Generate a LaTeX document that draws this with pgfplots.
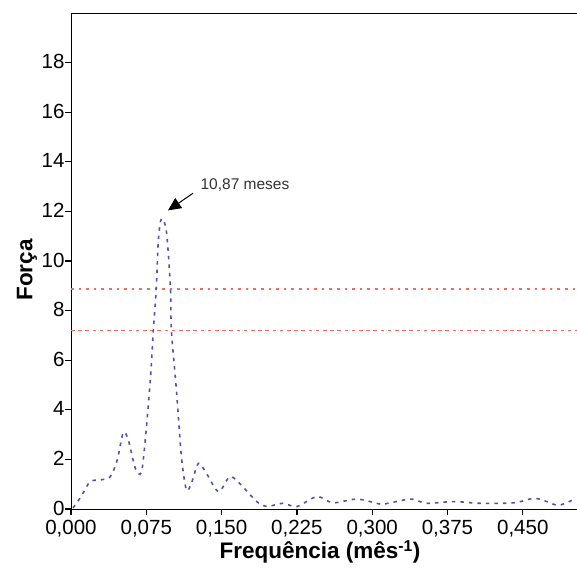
\documentclass[border=0pt]{standalone}
\usepackage{fontspec}
\setmainfont{Liberation Sans}
\usepackage{pgfplots}
\pgfplotsset{compat=1.18}
\usetikzlibrary{arrows.meta}
\definecolor{curve}{RGB}{85,80,170}
\definecolor{redl}{RGB}{228,112,102}
\definecolor{redd}{RGB}{238,105,90}
\begin{document}
\begin{tikzpicture}
\begin{axis}[
  scale only axis, width=506pt, height=496pt,
  xmin=0, xmax=0.504, ymin=0, ymax=20,
  axis x line*=bottom, axis y line*=left,
  axis line style={line width=0.9pt, black},
  xtick={0,0.075,...,0.46}, ytick={0,2,...,18},
  tick align=outside, major tick length=6pt,
  tick style={line width=1.3pt, black},
  /pgf/number format/assume math mode=true,
  xticklabel style={font=\fontsize{20.5}{20.5}\selectfont, yshift=-2pt, /pgf/number format/.cd, fixed, fixed zerofill, precision=3, use comma},
  yticklabel style={font=\fontsize{20.5}{20.5}\selectfont, xshift=3pt, yshift=1pt},
  xlabel={\textbf{Frequência (mês\textsuperscript{-1})}},
  ylabel={\textbf{Força}},
  label style={font=\fontsize{22.5}{22.5}\selectfont},
  x label style={at={(axis description cs:0.492,-0.087)}, anchor=center},
  y label style={at={(axis description cs:-0.087,0.482)}, anchor=center},
  clip=false,
]
\addplot[color=redl, line width=2.2pt, dash pattern=on 2.6pt off 5pt, line cap=butt] coordinates {(0,8.86) (0.504,8.86)};
\addplot[color=redd, line width=1.0pt, dash pattern=on 3.6pt off 3.6pt] coordinates {(0,7.21) (0.504,7.21)};
\addplot[curve, line width=1.6pt, dash pattern=on 3.5pt off 5pt, smooth, tension=0.5] coordinates {
(0.002,0.04) (0.010,0.5) (0.019,1.1) (0.029,1.17) (0.039,1.3) (0.046,1.97) (0.052,3.07) (0.057,2.8)
(0.064,1.65) (0.070,1.46) (0.074,2.8) (0.079,5.2) (0.082,7.2) (0.085,8.95) (0.087,10.83) (0.090,11.7)
(0.095,11.2) (0.099,8.95) (0.100,7.2) (0.105,4.8) (0.110,2.1) (0.115,0.77) (0.120,1.05) (0.127,1.84)
(0.135,1.43) (0.147,0.7) (0.158,1.3) (0.168,1.03) (0.185,0.3) (0.195,0.1) (0.211,0.23) (0.225,0.1)
(0.245,0.5) (0.261,0.25) (0.285,0.4) (0.308,0.2) (0.318,0.25) (0.339,0.4) (0.354,0.23) (0.381,0.3)
(0.407,0.23) (0.441,0.25) (0.461,0.43) (0.474,0.3) (0.486,0.15) (0.503,0.43)};
\draw[line width=0.9pt] (rel axis cs:0,1) -- (rel axis cs:1,1);
\draw[line width=1pt, -{Triangle[length=13pt,width=12pt]}] (axis cs:0.1215,12.73) -- (axis cs:0.0966,12.04);
\node[font=\fontsize{15.5}{15.5}\selectfont, text=black!80] at (axis cs:0.1733,13.05) {10,87 meses};
\coordinate (bl) at (rel axis cs:0,0);
\coordinate (tr) at (rel axis cs:1,1);
\end{axis}
\pgfresetboundingbox
\path ([shift={(-71pt,-60pt)}]bl) rectangle ([shift={(0pt,13pt)}]tr);
\end{tikzpicture}
\end{document}
